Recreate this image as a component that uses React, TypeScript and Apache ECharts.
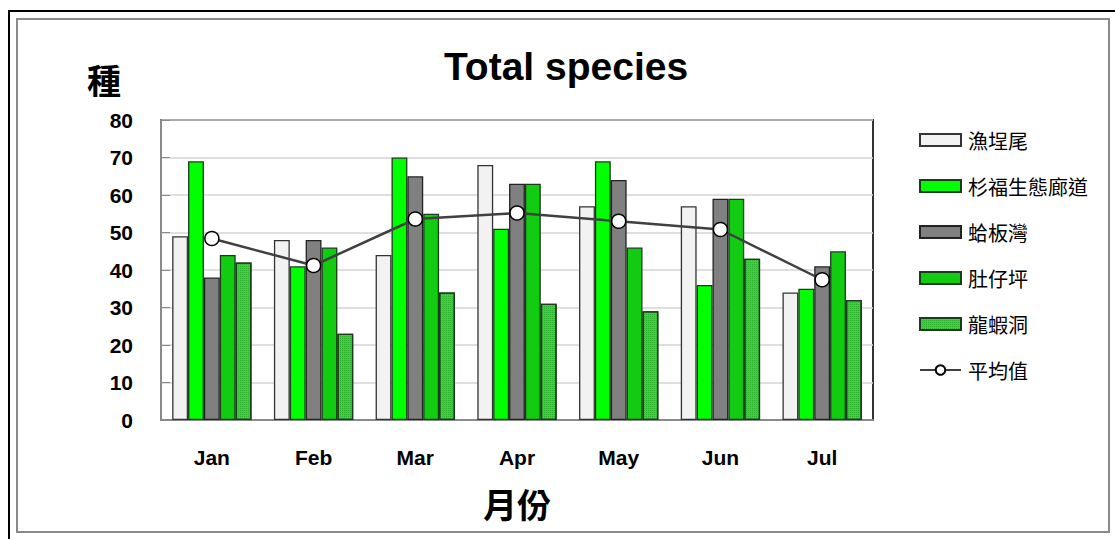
import React, { useEffect, useRef } from "react";
import * as echarts from "echarts";

const months = ["Jan", "Feb", "Mar", "Apr", "May", "Jun", "Jul"];
const yuChengWei = [49, 48, 44, 68, 57, 57, 34];
const shanFu = [69, 41, 70, 51, 69, 36, 35];
const geBanWan = [38, 48, 65, 63, 64, 59, 41];
const duZaiPing = [44, 46, 55, 63, 46, 59, 45];
const longXiaDong = [42, 23, 34, 31, 29, 43, 32];
const average = [48.4, 41.2, 53.6, 55.2, 53.0, 50.8, 37.4];
const yTicks = [0, 10, 20, 30, 40, 50, 60, 70, 80];

const LATIN = "'Liberation Sans', Arial, sans-serif";
const CJK = "'Noto Sans CJK TC', 'Noto Sans CJK SC', sans-serif";

export default function App() {
  const ref = useRef<HTMLDivElement>(null);
  useEffect(() => {
    if (!ref.current) return;
    const chart = echarts.init(ref.current, undefined, { renderer: "svg" });
    const barBase = (name: string, data: number[], color: string, border: string, extra: any = {}) => ({
      name,
      type: "bar",
      data,
      barGap: "0%",
      barCategoryGap: "22%",
      itemStyle: { color, borderColor: border, borderWidth: 1.3, ...extra },
    });
    chart.setOption({
      animation: false,
      backgroundColor: "#ffffff",
      title: {
        text: "Total species",
        left: 561,
        top: 42,
        textAlign: "center",
        textStyle: { fontFamily: LATIN, fontWeight: "bold", fontSize: 39, color: "#000" },
      },
      graphic: [
        {
          type: "rect",
          shape: { x: 9, y: 11, width: 1200, height: 600 },
          style: { fill: "none", stroke: "#000", lineWidth: 2 },
          silent: true,
        },
        {
          type: "rect",
          shape: { x: 17, y: 19, width: 1092, height: 513 },
          style: { fill: "none", stroke: "#8a8a8a", lineWidth: 2 },
          silent: true,
        },
      ],
      legend: {
        orient: "vertical",
        left: 919,
        top: 130,
        padding: 0,
        itemWidth: 41,
        itemHeight: 12,
        itemGap: 26,
        textStyle: { fontFamily: CJK, fontSize: 20, color: "#000", lineHeight: 20, padding: [0, 0, 0, 2] },
        data: [
          { name: "漁埕尾", icon: "rect" },
          { name: "杉福生態廊道", icon: "rect" },
          { name: "蛤板灣", icon: "rect" },
          { name: "肚仔坪", icon: "rect" },
          { name: "龍蝦洞", icon: "rect" },
          { name: "平均值" },
        ],
      },
      grid: {
        left: 161,
        right: 242,
        top: 120,
        bottom: 119,
        show: true,
        borderColor: "#333",
        borderWidth: 2,
      },
      xAxis: {
        type: "category",
        data: months,
        name: "月份",
        nameLocation: "middle",
        nameGap: 66,
        nameTextStyle: { fontFamily: CJK, fontSize: 34, fontWeight: "bold", color: "#000" },
        axisLine: { lineStyle: { color: "#8a8a8a", width: 2 } },
        axisTick: { show: false },
        axisLabel: { fontFamily: LATIN, fontWeight: "bold", fontSize: 21, color: "#000", margin: 27 },
      },
      yAxis: {
        type: "value",
        min: 0,
        max: 80,
        interval: 10,
        name: "種",
        nameLocation: "end",
        nameGap: 24,
        nameTextStyle: {
          fontFamily: CJK,
          fontSize: 34,
          fontWeight: "bold",
          color: "#000",
          align: "center",
          padding: [0, 114, 0, 0],
        },
        axisLine: { show: true, lineStyle: { color: "#8a8a8a", width: 2 } },
        axisTick: { show: true, inside: true, length: 9, lineStyle: { color: "#8a8a8a" } },
        splitLine: { lineStyle: { color: "#d4d4d4", width: 1.5 } },
        axisLabel: {
          fontFamily: LATIN,
          fontWeight: "bold",
          fontSize: 21,
          color: "#000",
          margin: 28,
          formatter: (v: number) => (yTicks.includes(v) ? String(v) : ""),
        },
      },
      series: [
        barBase("漁埕尾", yuChengWei, "#f2f2f2", "#333"),
        barBase("杉福生態廊道", shanFu, "#00ff00", "#1c3a1c"),
        barBase("蛤板灣", geBanWan, "#808080", "#222"),
        barBase("肚仔坪", duZaiPing, "#11cc11", "#1c3a1c"),
        barBase("龍蝦洞", longXiaDong, "#3fcf3f", "#1c3a1c", {
          decal: {
            symbol: "rect",
            symbolSize: 1,
            dashArrayX: [1, 1],
            dashArrayY: [1, 1],
            color: "rgba(20,140,20,0.45)",
          },
        }),
        {
          name: "平均值",
          type: "line",
          data: average,
          z: 5,
          symbol: "circle",
          symbolSize: 14,
          lineStyle: { color: "#404040", width: 2.5 },
          itemStyle: { color: "#ffffff", borderColor: "#000", borderWidth: 1.5 },
        },
      ],
    });
    return () => chart.dispose();
  }, []);
  return (
    <div
      ref={ref}
      style={{ position: "absolute", left: 0, top: 0, width: 1115, height: 539 }}
    />
  );
}
